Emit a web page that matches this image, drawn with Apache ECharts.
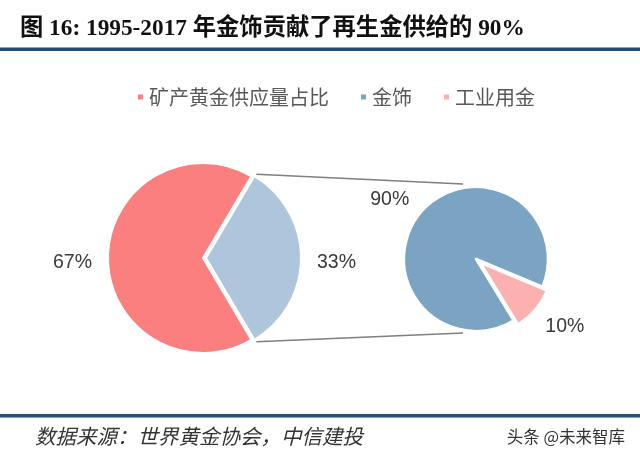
<!DOCTYPE html>
<html><head><meta charset="utf-8">
<script src="https://cdn.jsdelivr.net/npm/echarts@6/dist/echarts.min.js"></script>
<style>html,body{margin:0;padding:0;background:#fff}#c{width:640px;height:461px}</style>
</head><body><div id="c"></div>
<script>
var legendNames = ['矿产黄金供应量占比', '金饰', '工业用金'];
var leftNames = ['再生金', '矿产黄金供应量占比'];
var leftValues = [33, 67];
var rightNames = ['金饰', '工业用金'];
var rightValues = [90, 10];

var leftCenter = [203, 258], leftR = 95;
var rightCenter = [476, 259], rightR = 72;
var leftStart = leftValues[0] / 100 * 180;   // blue slice centred on the right
var rightStart = 301.4;

var labelStyle = {formatter: '{d}%', fontSize: 19.5, color: '#3a3a3a', fontFamily: 'Liberation Sans, Arial, sans-serif'};

function rad(d){return d*Math.PI/180;}
var a1 = rad(leftStart), a2 = rad(leftStart - leftValues[0]/100*360);
var off = 3;
var p1 = [leftCenter[0] + off + leftR*Math.cos(a1) + 2, leftCenter[1] - leftR*Math.sin(a1) - 2];
var p2 = [leftCenter[0] + off + leftR*Math.cos(a2) + 2, leftCenter[1] - leftR*Math.sin(a2) + 2];
var q1 = [rightCenter[0] - 13, rightCenter[1] - rightR - 3];
var q2 = [rightCenter[0] - 13, rightCenter[1] + rightR + 2];

var chart = echarts.init(document.getElementById('c'));
chart.setOption({
  animation: false,
  legend: {
    data: legendNames,
    top: 82, left: 131,
    icon: 'rect', itemWidth: 7, itemHeight: 7, itemGap: 30,
    textStyle: {fontSize: 20, color: '#595959', fontFamily: 'Noto Sans CJK SC, sans-serif'}
  },
  series: [
    {
      type: 'pie', center: leftCenter, radius: leftR, startAngle: leftStart, clockwise: true,
      selectedMode: 'single', selectedOffset: off,
      label: labelStyle, labelLine: {show: false, length: 8, length2: 3},
      labelLayout: {dy: 5},
      itemStyle: {borderColor: '#fff', borderWidth: 2},
      emphasis: {disabled: true},
      data: leftNames.map(function(n, i){
        return {name: n, value: leftValues[i], selected: i === 0,
          itemStyle: {color: i === 0 ? '#adc6dc' : '#fc7f7f'}};
      })
    },
    {
      type: 'pie', center: rightCenter, radius: rightR, startAngle: rightStart, clockwise: true,
      selectedMode: 'single', selectedOffset: 6,
      label: labelStyle, labelLine: {show: false, length: 12, length2: 4},
      labelLayout: function(p){ return p.dataIndex === 0 ? {dx: 6, dy: -5} : {dx: -8, dy: 9}; },
      itemStyle: {borderColor: '#fff', borderWidth: 2.5},
      emphasis: {disabled: true},
      data: rightNames.map(function(n, i){
        return {name: n, value: rightValues[i], selected: i === 1,
          itemStyle: {color: i === 0 ? '#7ba3c2' : '#fdb0b0'}};
      })
    }
  ],
  graphic: [
    {type: 'text', left: 20, top: 17, style: {text: '图 16: 1995-2017 年金饰贡献了再生金供给的 90%', fontSize: 23.3, fontWeight: 'bold', fill: '#111', fontFamily: 'Liberation Serif, Noto Sans CJK SC, serif'}},
    {type: 'rect', shape: {x: 0, y: 47.5, width: 640, height: 3.5}, style: {fill: '#1f4e7e'}},
    {type: 'rect', shape: {x: 0, y: 414, width: 640, height: 3.5}, style: {fill: '#1f4e7e'}},
    {type: 'line', shape: {x1: p1[0], y1: p1[1], x2: q1[0], y2: q1[1]}, style: {stroke: '#7f7f7f', lineWidth: 1.5}},
    {type: 'line', shape: {x1: p2[0], y1: p2[1], x2: q2[0], y2: q2[1]}, style: {stroke: '#7f7f7f', lineWidth: 1.5}},
    {type: 'text', left: 35, top: 426, style: {text: '数据来源：世界黄金协会，中信建投', fontSize: 20.5, fill: '#333', fontStyle: 'italic', fontFamily: 'Noto Sans CJK SC, sans-serif'}},
    {type: 'text', right: 15, top: 428, style: {text: '头条 @未来智库', fontSize: 16.5, fill: '#333', fontFamily: 'Noto Sans CJK SC, sans-serif'}}
  ]
});
</script></body></html>
